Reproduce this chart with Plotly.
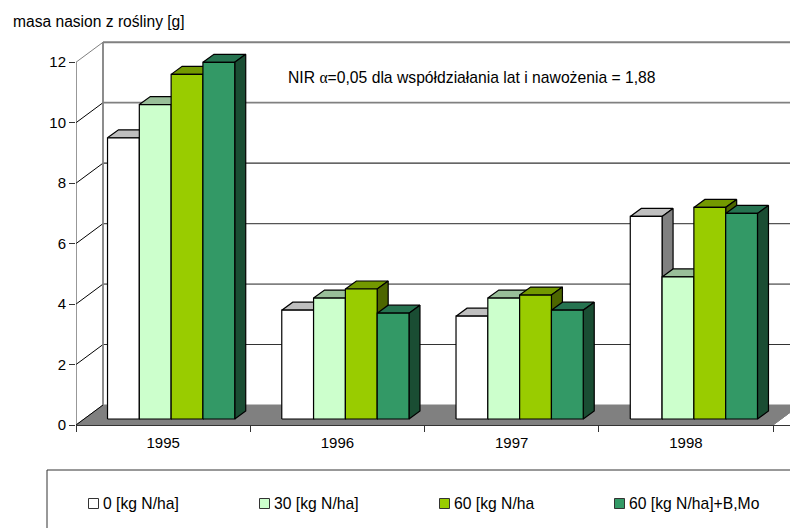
import plotly.graph_objects as go

# --- data ---
years = ["1995", "1996", "1997", "1998"]
series_names = ["0 [kg N/ha]", "30 [kg N/ha]", "60 [kg N/ha", "60 [kg N/ha]+B,Mo"]
s0 = [9.3, 3.6, 3.4, 6.7]
s30 = [10.4, 4.0, 4.0, 4.7]
s60 = [11.4, 4.3, 4.1, 7.0]
s60bmo = [11.8, 3.5, 3.6, 6.8]
y_ticks = [0, 2, 4, 6, 8, 10, 12]
title_text = "masa nasion z rośliny [g]"
nir_text = 'NIR <span style="font-family:Liberation Serif">α</span>=0,05 dla współdziałania lat i nawożenia = 1,88'

# --- styles ---
FONT = "Liberation Sans, Arial, sans-serif"
front_cols = ["#FFFFFF", "#CCFFCC", "#99CC00", "#339966"]
top_cols = ["#BFBFBF", "#99BF99", "#739900", "#267350"]
side_cols = ["#808080", "#668066", "#4D6600", "#1A4D33"]
W, H = 790, 528
L, B = 76, 103
PX_GROUP = 174.25
PX_UNIT = 30.23
WALL_DX, WALL_DY = 27 / PX_GROUP, 20 / PX_UNIT
BAR_DX0, BAR_DY0 = 8 / PX_GROUP, 6 / PX_UNIT
BAR_DX, BAR_DY = 11 / PX_GROUP, 8 / PX_UNIT
GAP = 0.135
BW = (1 - 2 * GAP) / 4


def px(x):
    return (x - L) / (W - L)


def py(y):
    return (H - B - y) / (H - B)


fig = go.Figure()


def poly(xs, ys, fill, lc="#000000", lw=1.2):
    fig.add_trace(go.Scatter(x=xs, y=ys, mode="lines", fill="toself", fillcolor=fill,
                             line=dict(color=lc, width=lw), hoverinfo="skip", showlegend=False))


def seg(xs, ys, color, width):
    fig.add_trace(go.Scatter(x=xs, y=ys, mode="lines", line=dict(color=color, width=width),
                             hoverinfo="skip", showlegend=False))


# floor
n = len(years)
poly([0, WALL_DX, n + WALL_DX, n, 0], [0, WALL_DY, WALL_DY, 0, 0], "#808080", "#808080", 1)

# wall grid
grid_style = {0: ("#808080", 1), 2: ("#333333", 1.1), 4: ("#808080", 1.8), 6: ("#555555", 1.3),
              8: ("#333333", 1.1), 10: ("#808080", 1.8), 12: ("#808080", 1.8)}
for t in y_ticks:
    c, w = grid_style[t]
    if t:
        seg([WALL_DX, n + WALL_DX], [t + WALL_DY, t + WALL_DY], c, w)
    seg([0, WALL_DX], [t, t + WALL_DY], "#808080" if t == 12 else "#000000", 1)
seg([WALL_DX, WALL_DX], [WALL_DY, 12 + WALL_DY], "#808080", 1.8)
seg([0, 0], [0, 12], "#333333", 1)
seg([n, n + WALL_DX], [0, WALL_DY], "#808080", 1)

# bars, painted left to right
for g in range(n):
    for k, vals in enumerate([s0, s30, s60, s60bmo]):
        x0 = g + GAP + k * BW + BAR_DX0
        x1 = x0 + BW
        y0 = BAR_DY0
        y1 = BAR_DY0 + vals[g]
        poly([x0, x0 + BAR_DX, x1 + BAR_DX, x1, x0], [y1, y1 + BAR_DY, y1 + BAR_DY, y1, y1], top_cols[k])
        poly([x1, x1 + BAR_DX, x1 + BAR_DX, x1, x1], [y0, y0 + BAR_DY, y1 + BAR_DY, y1, y0], side_cols[k])
        poly([x0, x1, x1, x0, x0], [y0, y0, y1, y1, y0], front_cols[k])

# legend, frame and swatches
shapes = [dict(type="rect", xref="paper", yref="paper", x0=px(47), x1=px(830), y0=py(470), y1=py(560),
               line=dict(color="#333333", width=1), fillcolor="rgba(0,0,0,0)")]
annotations = []
legend_x = [88, 259, 439, 614]
for x, name, col in zip(legend_x, series_names, front_cols):
    shapes.append(dict(type="rect", xref="paper", yref="paper", x0=px(x + 0.5), x1=px(x + 10.5),
                       y0=py(498.5), y1=py(508.5), line=dict(color="#333333", width=1), fillcolor=col))
    annotations.append(dict(xref="paper", yref="paper", x=px(x + 13), y=py(503), text=name, showarrow=False,
                            xanchor="left", yanchor="middle",
                            font=dict(family=FONT, size=15.7, color="#000000")))

annotations.append(dict(xref="paper", yref="paper", x=px(11), y=py(22), text=title_text, showarrow=False,
                        xanchor="left", yanchor="middle", font=dict(family=FONT, size=15.6, color="#000000")))
annotations.append(dict(xref="paper", yref="paper", x=px(286), y=py(78), text=nir_text, showarrow=False,
                        xanchor="left", yanchor="middle", font=dict(family=FONT, size=15.7, color="#000000")))

fig.update_layout(
    width=W, height=H, autosize=False,
    margin=dict(l=L, r=0, t=0, b=B, pad=0),
    paper_bgcolor="#FFFFFF", plot_bgcolor="rgba(0,0,0,0)",
    showlegend=False, shapes=shapes, annotations=annotations,
    xaxis=dict(range=[0, (W - L) / PX_GROUP], showgrid=False, zeroline=False, showline=True,
               linecolor="#333333", linewidth=1, tickmode="array",
               tickvals=[i + 0.5 for i in range(n)], ticktext=years, ticks="",
               ticklabelstandoff=4,
               tickfont=dict(family=FONT, size=15, color="#000000"),
               minor=dict(tickmode="array", tickvals=list(range(n + 1)), ticks="outside",
                          ticklen=6, tickcolor="#333333", tickwidth=1, showgrid=False)),
    yaxis=dict(range=[0, (H - B) / PX_UNIT], showgrid=False, zeroline=False, showline=False,
               tickmode="array", tickvals=y_ticks, ticks="outside", ticklen=6, tickcolor="#333333",
               tickfont=dict(family=FONT, size=15, color="#000000")),
)
fig.write_html("out.html", config={"displayModeBar": False},
               post_script="document.body.style.margin='0';document.documentElement.style.overflow='hidden';")
